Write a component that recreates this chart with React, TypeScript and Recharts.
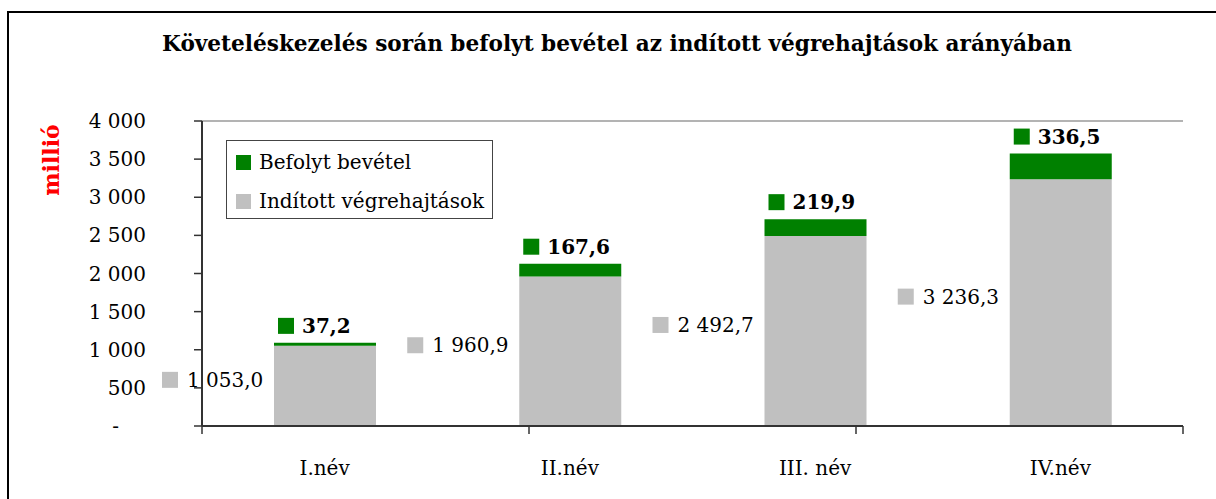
import React from 'react';
import { BarChart, Bar, XAxis, YAxis, LabelList, Legend, ReferenceLine, Label } from 'recharts';

const chartTitle = 'Követeléskezelés során befolyt bevétel az indított végrehajtások arányában';
const yAxisTitle = 'millió';
const categories = ['I.név', 'II.név', 'III. név', 'IV.név'];
const inditott = [1053.0, 1960.9, 2492.7, 3236.3];
const befolyt = [37.2, 167.6, 219.9, 336.5];
const yTicks = [0, 500, 1000, 1500, 2000, 2500, 3000, 3500, 4000];
const boundaryTicks = [0, 1, 2, 3, 4];
const seriesNames = { befolyt: 'Befolyt bevétel', inditott: 'Indított végrehajtások' };

const data = categories.map((name, i) => ({ name, inditott: inditott[i], befolyt: befolyt[i] }));

const FONT = '"DejaVu Serif", serif';
const GRAY = '#C0C0C0';
const GREEN = '#008000';
const AXIS = '#333333';

function groupThousands(s: string) {
  return s.replace(/\B(?=(\d{3})+(?!\d))/g, '\u00A0');
}
function fmtValue(v: number) {
  const [i, d] = v.toFixed(1).split('.');
  return groupThousands(i) + ',' + d;
}
function fmtTick(v: number) {
  return v === 0 ? '-' : groupThousands(String(v));
}

const YTick = (props: any) => {
  const { x, y, payload } = props;
  const isZero = payload.value === 0;
  return (
    <text x={isZero ? x - 27 : x} y={y} textAnchor="end" dominantBaseline="central" fontFamily={FONT} fontSize={20} fill="#000">
      {fmtTick(payload.value)}
    </text>
  );
};

const XTick = (props: any) => {
  const { x, y, payload } = props;
  return (
    <text x={x} y={y} textAnchor="middle" dy="0.71em" fontFamily={FONT} fontSize={20} fill="#000">
      {payload.value}
    </text>
  );
};

const EmptyTick = () => <g />;

function box(props: any) {
  const vb = props.viewBox && props.viewBox.width !== undefined ? props.viewBox : props;
  return { x: Number(vb.x), y: Number(vb.y), width: Number(vb.width), height: Number(vb.height) };
}

const GrayLabel = (props: any) => {
  const { x, y, height } = box(props);
  const mx = x - 112;
  const cy = y + height / 2 - 6;
  return (
    <g>
      <rect x={mx} y={cy - 8} width={16} height={16} fill={GRAY} />
      <text x={mx + 25} y={cy} dominantBaseline="central" fontFamily={FONT} fontSize={20} fill="#000">
        {fmtValue(Number(props.value))}
      </text>
    </g>
  );
};

const GreenLabel = (props: any) => {
  const { x, y } = box(props);
  const mx = x + 4;
  const cy = y - 17;
  return (
    <g>
      <rect x={mx} y={cy - 8} width={16} height={16} fill={GREEN} />
      <text x={mx + 24} y={cy} dominantBaseline="central" fontFamily={FONT} fontSize={20} fontWeight="bold" fill="#000">
        {fmtValue(Number(props.value))}
      </text>
    </g>
  );
};

const LegendBox = () => {
  const items = [
    { name: seriesNames.befolyt, color: GREEN },
    { name: seriesNames.inditott, color: GRAY },
  ];
  return (
    <div style={{ boxSizing: 'border-box', width: 267, height: 79, border: '1px solid #444', background: '#fff', fontFamily: FONT, fontSize: 20, color: '#000', position: 'relative' }}>
      {items.map((it, i) => (
        <div key={it.name} style={{ position: 'absolute', left: 9, top: 13 + i * 39, height: 16, display: 'flex', alignItems: 'center', whiteSpace: 'nowrap' }}>
          <div style={{ width: 15, height: 15, background: it.color, marginRight: 8 }} />
          <span style={{ lineHeight: '16px' }}>{it.name}</span>
        </div>
      ))}
    </div>
  );
};

const YTitle = () => (
  <text x={51} y={160} transform="rotate(-90, 51, 160)" textAnchor="middle" dominantBaseline="central" fontFamily={FONT} fontSize={22} fontWeight="bold" fill="#FF0000">
    {yAxisTitle}
  </text>
);

export default function App() {
  return (
    <div style={{ position: 'absolute', left: 0, top: 0, width: 1216, height: 499, overflow: 'hidden', background: '#fff' }}>
      <div style={{ position: 'absolute', left: 7, top: 11, width: 1300, height: 700, border: '2px solid #000', boxSizing: 'border-box' }} />
      <div style={{ position: 'absolute', left: 8, top: 31, width: 1218, textAlign: 'center', fontFamily: FONT, fontSize: 21.6, fontWeight: 'bold', color: '#000', whiteSpace: 'nowrap' }}>
        {chartTitle}
      </div>
      <div style={{ position: 'absolute', left: 0, top: 0 }}>
        <BarChart width={1216} height={499} data={data} margin={{ top: 121, right: 33, bottom: 32, left: 0 }}>
          <XAxis xAxisId="b" dataKey="name" height={40} tickLine={false} axisLine={false} tick={<XTick />} tickMargin={28} interval={0} />
          <XAxis xAxisId="a" type="number" domain={[0, 4]} ticks={boundaryTicks} allowDataOverflow height={1} tick={<EmptyTick />} axisLine={{ stroke: AXIS, strokeWidth: 2 }} tickLine={{ stroke: AXIS, strokeWidth: 1.5 }} tickSize={8} />
          <YAxis width={202} domain={[0, 4000]} ticks={yTicks} interval={0} tickSize={8} tickMargin={48} axisLine={{ stroke: AXIS, strokeWidth: 2 }} tickLine={{ stroke: AXIS, strokeWidth: 1.5 }} tick={<YTick />}>
            <Label content={<YTitle />} />
          </YAxis>
          <ReferenceLine y={4000} xAxisId="b" stroke="#9a9a9a" strokeWidth={1.5} />
          <ReferenceLine x={4} xAxisId="a" stroke="#9a9a9a" strokeWidth={1.5} />
          <Legend layout="vertical" align="center" verticalAlign="middle" wrapperStyle={{ position: 'absolute', left: 226, top: 140, width: 267, height: 79 }} content={<LegendBox />} />
          <Bar dataKey="inditott" name={seriesNames.inditott} xAxisId="b" stackId="s" fill={GRAY} barSize={102} isAnimationActive={false}>
            <LabelList dataKey="inditott" content={<GrayLabel />} />
          </Bar>
          <Bar dataKey="befolyt" name={seriesNames.befolyt} xAxisId="b" stackId="s" fill={GREEN} barSize={102} isAnimationActive={false}>
            <LabelList dataKey="befolyt" content={<GreenLabel />} />
          </Bar>
        </BarChart>
      </div>
    </div>
  );
}
